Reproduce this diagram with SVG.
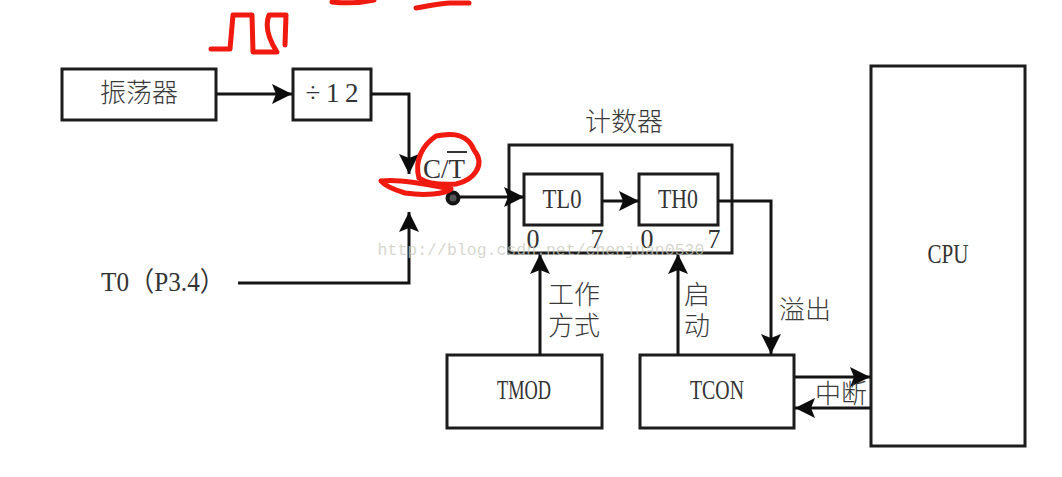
<svg xmlns="http://www.w3.org/2000/svg" width="1062" height="477" viewBox="0 0 1062 477">
<style>
.b{fill:#fff;stroke:#1c1c1c;stroke-width:3}
.l{fill:none;stroke:#141414;stroke-width:3}
.t{font-family:"Liberation Serif","Noto Sans CJK SC",serif;fill:#333;font-size:27px;text-anchor:middle}
.z{font-family:"Noto Sans CJK SC","Liberation Serif",serif;fill:#3a3a3a;font-size:26px;font-weight:300;text-anchor:middle}
.r{fill:none;stroke:#f01a10;stroke-linecap:round;stroke-linejoin:round}
</style>
<defs>
<marker id="a" markerUnits="userSpaceOnUse" markerWidth="22" markerHeight="22" refX="20" refY="10" orient="auto"><path d="M0 0L20 10L0 20L4 10Z" fill="#0c0c0c"/></marker>
</defs>
<rect width="1062" height="477" fill="#fff"/>
<g id="counter"><rect class="b" x="509" y="145" width="223" height="108"/><text class="z" x="624" y="131">计数器</text>
<text class="t" x="533" y="248" textLength="13" lengthAdjust="spacingAndGlyphs">0</text><text class="t" x="597" y="248" textLength="13" lengthAdjust="spacingAndGlyphs">7</text><text class="t" x="647" y="248" textLength="13" lengthAdjust="spacingAndGlyphs">0</text><text class="t" x="714" y="248" textLength="13" lengthAdjust="spacingAndGlyphs">7</text></g>
<g id="osc"><rect class="b" x="62" y="69" width="154" height="51"/><text class="z" x="139" y="102">振荡器</text></g>
<g id="div"><rect class="b" x="293" y="69" width="78" height="51"/><text class="t" x="332" y="102" font-size="25" textLength="53">÷12</text></g>
<g id="tl0"><rect class="b" x="524" y="174" width="78" height="51"/><text class="t" x="562" y="208" textLength="39" lengthAdjust="spacingAndGlyphs">TL0</text></g>
<g id="th0"><rect class="b" x="639" y="174" width="79" height="51"/><text class="t" x="678" y="208" textLength="40" lengthAdjust="spacingAndGlyphs">TH0</text></g>
<g id="tmod"><rect class="b" x="447" y="355" width="155" height="73"/><text class="t" x="524" y="399" textLength="54" lengthAdjust="spacingAndGlyphs">TMOD</text></g>
<g id="tcon"><rect class="b" x="640" y="355" width="154" height="73"/><text class="t" x="717" y="399" textLength="54" lengthAdjust="spacingAndGlyphs">TCON</text></g>
<g id="cpu"><rect class="b" x="871" y="66" width="154" height="380"/><text class="t" x="948" y="263" textLength="41" lengthAdjust="spacingAndGlyphs">CPU</text></g>
<g id="connectors">
<path class="l" d="M217 94H292" marker-end="url(#a)"/>
<path class="l" d="M371 94H409V174" marker-end="url(#a)"/>
<path class="l" d="M238 283H409V212" marker-end="url(#a)"/>
<path class="l" d="M459 197H524" marker-end="url(#a)"/>
<path class="l" d="M602 201H639" marker-end="url(#a)"/>
<path class="l" d="M718 201H771V354" marker-end="url(#a)"/>
<path class="l" d="M540 355V254" marker-end="url(#a)"/>
<path class="l" d="M678 355V254" marker-end="url(#a)"/>
<path class="l" d="M795 377H870" marker-end="url(#a)"/>
<path class="l" d="M870 408H795" marker-end="url(#a)"/>
<circle cx="453" cy="198" r="5.5" fill="#555" stroke="#141414" stroke-width="4"/>
</g>
<g id="labels">
<text class="t" x="163" y="291" textLength="124" lengthAdjust="spacingAndGlyphs">T0（P3.4）</text>
<text class="z" x="574" y="304">工作</text><text class="z" x="574" y="335">方式</text>
<text class="z" x="697" y="304">启</text><text class="z" x="697" y="335">动</text>
<text class="z" x="805" y="319">溢出</text>
<text class="z" x="841" y="403">中断</text>
<text class="t" x="444" y="178" textLength="42" lengthAdjust="spacingAndGlyphs">C/T</text>
<path d="M447 152H467" stroke="#333" stroke-width="2"/>
<text x="541" y="255" text-anchor="middle" font-family="Liberation Mono, monospace" font-size="16.5" fill="#c9c9bd" fill-opacity=".75">http://blog.csdn.net/chenjuan0530</text>
</g>
<g id="ink">
<path class="r" stroke-width="5" d="M211 49H230L233 15H252L253 52H277C268 38 265 25 269 15H286L285 45"/>
<path class="r" stroke-width="5" d="M332 2C350 4 365 2 374 0M416 8C430 6 440 3 450 3H469"/>
<path class="r" stroke-width="5" d="M419 178C414 160 423 145 436 136C455 132 468 135 474 150C486 165 474 180 456 184C440 185 428 184 419 178"/>
<path class="r" stroke-width="5" d="M381 181C400 179 425 184 451 189C445 194 425 196 405 193C395 190 385 186 381 181"/>
</g>
</svg>
